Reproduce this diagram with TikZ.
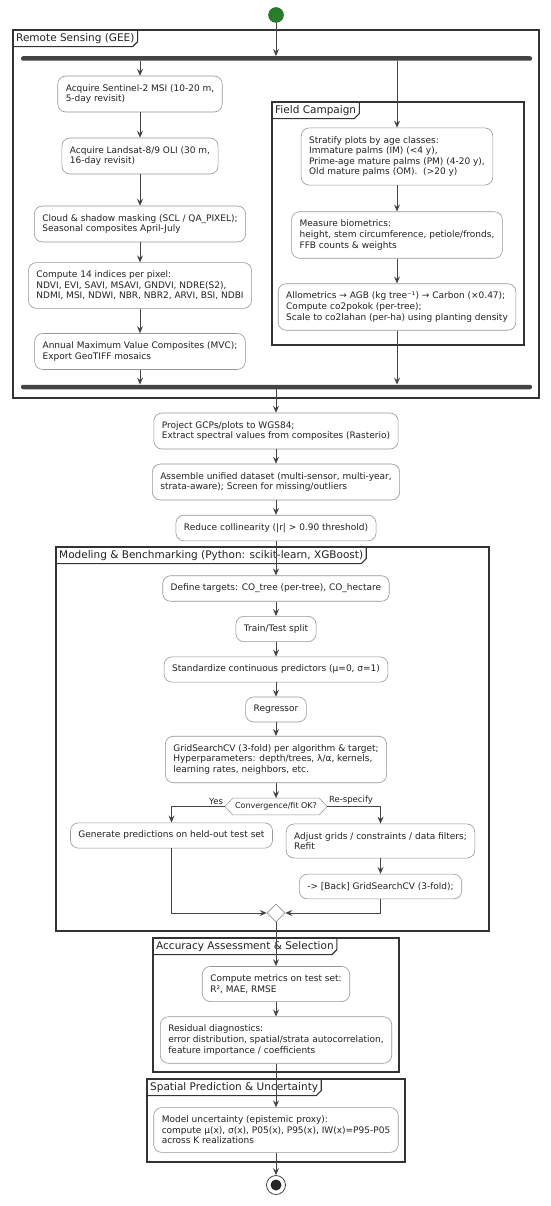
\documentclass[tikz,border=0pt]{standalone}
\usepackage{fontspec}
\setmainfont{DejaVu Sans}
\usetikzlibrary{shapes.geometric,arrows.meta,calc}
\definecolor{umlline}{RGB}{68,68,68}
\definecolor{umlbox}{RGB}{150,150,150}
\definecolor{umltext}{RGB}{34,34,34}
\definecolor{startgreen}{RGB}{40,125,45}

\begin{document}
\begin{tikzpicture}[x=1pt, y=-1pt,
  box/.style={draw=umlbox, line width=0.6pt, fill=white, rounded corners=8pt, align=left,
    inner xsep=8pt, inner ysep=8.3pt, font=\fontsize{9}{10.6}\selectfont, text=umltext},
  flow/.style={draw=umlline, line width=0.8pt, -{Stealth[length=7pt,width=6pt,inset=2.5pt]}},
  frame/.style={draw=black!80, line width=1.1pt},
  tab/.style={anchor=north west, inner xsep=3pt, inner ysep=3pt, font=\fontsize{10.5}{12}\selectfont, text=umltext},
  bar/.style={fill=umlline, rounded corners=2pt, minimum height=4.5pt, inner sep=0pt, minimum width=511pt},
  lbl/.style={font=\fontsize{8.5}{10}\selectfont, text=umltext, inner sep=1.5pt}]
  \fill[white] (0,0) rectangle (550,1206);
  \useasboundingbox (0,0) rectangle (550,1206);

  % frames
  \draw[frame] (13,30) rectangle (539,398);
  \node[tab] (rstab) at (13,30) {Remote Sensing (GEE)};
  \draw[frame] (rstab.south west) -- ([xshift=-5pt]rstab.south east) -- ([yshift=5pt]rstab.south east) -- (rstab.north east);
  \draw[frame] (272,102) rectangle (524,345);
  \node[tab] (fctab) at (272,102) {Field Campaign};
  \draw[frame] (fctab.south west) -- ([xshift=-5pt]fctab.south east) -- ([yshift=5pt]fctab.south east) -- (fctab.north east);
  \draw[frame] (56,547) rectangle (489,931);
  \node[tab] (mbtab) at (56,547) {Modeling \& Benchmarking (Python: scikit-learn, XGBoost)};
  \draw[frame] (mbtab.south west) -- ([xshift=-5pt]mbtab.south east) -- ([yshift=5pt]mbtab.south east) -- (mbtab.north east);
  \draw[frame] (153,938) rectangle (399,1072);
  \node[tab] (actab) at (153,938) {Accuracy Assessment \& Selection};
  \draw[frame] (actab.south west) -- ([xshift=-5pt]actab.south east) -- ([yshift=5pt]actab.south east) -- (actab.north east);
  \draw[frame] (147,1079) rectangle (405,1162);
  \node[tab] (sptab) at (147,1079) {Spatial Prediction \& Uncertainty};
  \draw[frame] (sptab.south west) -- ([xshift=-5pt]sptab.south east) -- ([yshift=5pt]sptab.south east) -- (sptab.north east);

  \node[circle, fill=startgreen, draw=startgreen!70!black, minimum size=15pt, inner sep=0pt] (start) at (276,15) {};
  \node[bar] (fork) at (276.5,58.5) {};
  \node[bar] (join) at (276.5,387) {};

  \node[box] (s2) at (140,94) {Acquire Sentinel-2 MSI (10-20 m,\\5-day revisit)};
  \node[box] (l89) at (140,156) {Acquire Landsat-8/9 OLI (30 m,\\16-day revisit)};
  \node[box] (mask) at (140,224) {Cloud \& shadow masking (SCL / QA\_PIXEL);\\Seasonal composites April-July};
  \node[box] (idx) at (140,285.5) {Compute 14 indices per pixel:\\NDVI, EVI, SAVI, MSAVI, GNDVI, NDRE(S2),\\NDMI, MSI, NDWI, NBR, NBR2, ARVI, BSI, NDBI};
  \node[box] (mvc) at (140,351.5) {Annual Maximum Value Composites (MVC);\\Export GeoTIFF mosaics};

  \node[box] (strat) at (397,156.5) {Stratify plots by age classes:\\Immature palms (IM) (<4 y),\\Prime-age mature palms (PM) (4-20 y),\\Old mature palms (OM).\ \ (>20 y)};
  \node[box] (bio) at (397,235) {Measure biometrics:\\height, stem circumference, petiole/fronds,\\FFB counts \& weights};
  \node[box] (allo) at (397,307) {Allometrics → AGB (kg tree⁻¹) → Carbon (×0.47);\\Compute co2pokok (per-tree);\\Scale to co2lahan (per-ha) using planting density};

  \node[box] (proj) at (276,431) {Project GCPs/plots to WGS84;\\Extract spectral values from composites (Rasterio)};
  \node[box] (assem) at (276,482) {Assemble unified dataset (multi-sensor, multi-year,\\strata-aware); Screen for missing/outliers};
  \node[box] (coll) at (276,528) {Reduce collinearity (|r| > 0.90 threshold)};

  \node[box] (tgt) at (276,588.5) {Define targets: CO\_tree (per-tree), CO\_hectare};
  \node[box] (split) at (276,629) {Train/Test split};
  \node[box] (std) at (276,669.5) {Standardize continuous predictors (μ=0, σ=1)};
  \node[box] (reg) at (276,709.5) {Regressor};
  \node[box] (grid) at (276,759.5) {GridSearchCV (3-fold) per algorithm \& target;\\Hyperparameters: depth/trees, λ/α, kernels,\\learning rates, neighbors, etc.};
  \node[font=\fontsize{8}{9.5}\selectfont, text=umltext, inner xsep=10pt, inner ysep=4.3pt] (fit) at (276,806.5) {Convergence/fit OK?};
  \draw[draw=umlbox, line width=0.6pt] (fit.west) -- ([xshift=8pt]fit.north west) -- ([xshift=-8pt]fit.north east)
    -- (fit.east) -- ([xshift=-8pt]fit.south east) -- ([xshift=8pt]fit.south west) -- cycle;
  \node[box] (pred) at (171.5,835.5) {Generate predictions on held-out test set};
  \node[box] (adj) at (380.5,841) {Adjust grids / constraints / data filters;\\Refit};
  \node[box] (back) at (380.5,886.5) {-> [Back] GridSearchCV (3-fold);};
  \node[diamond, draw=umlbox, line width=0.6pt, fill=white, minimum size=18pt, inner sep=0pt] (merge) at (276,913) {};

  \node[box] (met) at (276,984) {Compute metrics on test set:\\R², MAE, RMSE};
  \node[box] (resid) at (276,1040) {Residual diagnostics:\\error distribution, spatial/strata autocorrelation,\\feature importance / coefficients};
  \node[box] (unc) at (276,1130) {Model uncertainty (epistemic proxy):\\compute μ(x), σ(x), P05(x), P95(x), IW(x)=P95-P05\\across K realizations};
  \node[circle, draw=umlline, line width=0.8pt, minimum size=19pt, inner sep=0pt] (stop) at (276,1185) {};
  \fill[black!85] (stop) circle (5.5pt);

  % connectors
  \draw[flow] (start) -- (start |- fork.north);
  \draw[flow] (s2 |- fork.south) -- (s2);
  \draw[flow] (s2) -- (l89);
  \draw[flow] (l89) -- (mask);
  \draw[flow] (mask) -- (idx);
  \draw[flow] (idx) -- (mvc);
  \draw[flow] (mvc) -- (mvc |- join.north);
  \draw[flow] (strat |- fork.south) -- (strat);
  \draw[flow] (strat) -- (bio);
  \draw[flow] (bio) -- (allo);
  \draw[flow] (allo) -- (allo |- join.north);
  \draw[flow] (join.south -| proj) -- (proj);
  \draw[flow] (proj) -- (assem);
  \draw[flow] (assem) -- (coll);
  \draw[flow] (coll) -- (tgt);
  \draw[flow] (tgt) -- (split);
  \draw[flow] (split) -- (std);
  \draw[flow] (std) -- (reg);
  \draw[flow] (reg) -- (grid);
  \draw[flow] (grid) -- (fit);
  \draw[flow] (fit.west) -| (pred) node[lbl, pos=0, anchor=south east] {Yes};
  \draw[flow] (fit.east) -| (adj) node[lbl, pos=0, anchor=south west] {Re-specify};
  \draw[flow] (adj) -- (back);
  \draw[flow] (pred) |- (merge);
  \draw[flow] (back) |- (merge);
  \draw[flow] (merge) -- (met);
  \draw[flow] (met) -- (resid);
  \draw[flow] (resid) -- (unc);
  \draw[flow] (unc) -- (stop);
\end{tikzpicture}
\end{document}
